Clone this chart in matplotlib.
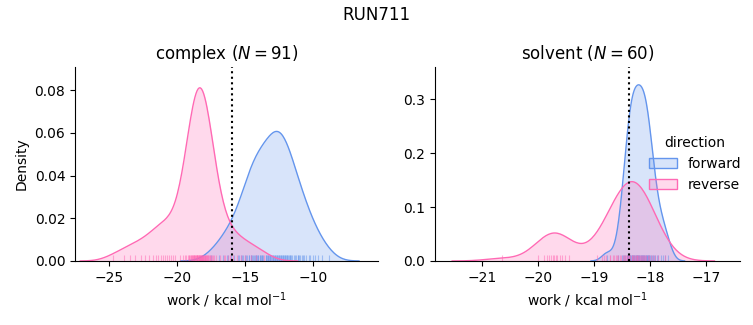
import numpy as np
import matplotlib
matplotlib.use('Agg')
import matplotlib.pyplot as plt
from matplotlib.patches import Patch

run_name = 'RUN711'
phases = ['complex', 'solvent']
directions = ['forward', 'reverse']
colors = {'forward': '#6495ED', 'reverse': '#FF69B4'}

# free energy estimates (dotted lines)
dg = {'complex': -15.95, 'solvent': -18.38}

complex_forward = [
    -17.55, -16.95, -16.65, -16.35, -16.25, -16.05, -15.85,
    -15.55, -15.45, -15.35, -15.25, -15.15, -15.05, -14.95, -14.85, -14.75,
    -14.7, -14.6, -14.55, -14.5, -14.45, -14.35, -14.3, -14.25, -14.2, -14.15,
    -14.1, -14.05, -13.95, -13.9, -13.85, -13.8, -13.75, -13.7,
    -13.5, -13.45, -13.4, -13.35, -13.3, -13.25, -13.2, -13.15, -13.1, -13.05,
    -13.0, -12.95, -12.9, -12.85, -12.8, -12.75, -12.7, -12.65, -12.6, -12.55,
    -12.5, -12.45, -12.4, -12.35, -12.3, -12.25, -12.2, -12.15, -12.1, -12.05,
    -12.0, -11.95, -11.9, -11.85, -11.8, -11.75, -11.7, -11.65, -11.6,
    -11.4, -11.35, -11.25, -11.15, -11.1, -11.05, -10.95, -10.85, -10.75, -10.65, -10.55,
    -10.35, -10.25, -10.05, -9.85, -9.65,
    -9.35, -8.85,
]
complex_reverse = [
    -24.7, -23.9, -23.5, -23.1, -22.7, -22.4, -22.1, -21.8,
    -21.6, -21.4, -21.2, -21.05, -20.9, -20.75, -20.6, -20.45, -20.3, -20.2,
    -19.83, -19.56, -19.43, -19.33, -19.24, -19.18, -19.12, -19.07, -19.02, -18.98,
    -18.94, -18.9, -18.87, -18.83, -18.8, -18.76, -18.74, -18.71, -18.68, -18.64,
    -18.62, -18.59, -18.56, -18.54, -18.52, -18.49, -18.46, -18.43, -18.41, -18.39,
    -18.36, -18.34, -18.31, -18.29, -18.27, -18.24, -18.21, -18.18, -18.16, -18.14,
    -18.11, -18.08, -18.06, -18.02, -17.99, -17.96, -17.94, -17.9, -17.87, -17.83,
    -17.8, -17.76, -17.72, -17.68, -17.63, -17.58, -17.52, -17.46, -17.37, -17.27,
    -17.14, -16.87,
    -16.6, -16.5, -16.3, -16.1, -15.9, -15.6, -15.3, -15.0, -14.6, -14.2, -13.6,
]
solvent_forward = [
    -18.77, -18.57, -18.51, -18.48, -18.46, -18.44, -18.42, -18.41, -18.4, -18.39,
    -18.38, -18.37, -18.36, -18.35, -18.34, -18.33, -18.32, -18.31, -18.3, -18.29,
    -18.28, -18.27, -18.26, -18.25, -18.24, -18.23, -18.22, -18.21, -18.2, -18.19,
    -18.18, -18.17, -18.16, -18.15, -18.14, -18.13, -18.12, -18.11, -18.1, -18.09,
    -18.08, -18.07, -18.06, -18.05, -18.04, -18.03, -18.02, -18.01, -18.0, -17.99,
    -17.97, -17.95, -17.93, -17.91, -17.88, -17.85, -17.81, -17.77, -17.73, -17.67,
]
solvent_reverse = [
    -20.65,
    -20.0, -19.9, -19.85, -19.81, -19.77, -19.74, -19.72, -19.69, -19.66, -19.62,
    -19.58, -19.52, -19.45,
    -18.95, -18.86, -18.82, -18.78, -18.72, -18.71, -18.66, -18.65, -18.61, -18.6,
    -18.57, -18.54, -18.52, -18.49, -18.47, -18.45, -18.43, -18.42, -18.4, -18.38,
    -18.37, -18.35, -18.33, -18.32, -18.3, -18.29, -18.27, -18.26, -18.24, -18.23,
    -18.21, -18.195, -18.18, -18.16, -18.145, -18.13, -18.11, -18.09, -18.07, -18.045,
    -18.02, -17.99, -17.95, -17.91, -17.85, -17.74,
]

works = {
    ('complex', 'forward'): np.array(complex_forward),
    ('complex', 'reverse'): np.array(complex_reverse),
    ('solvent', 'forward'): np.array(solvent_forward),
    ('solvent', 'reverse'): np.array(solvent_reverse),
}
n_pairs = {'complex': len(complex_forward), 'solvent': len(solvent_forward)}
n_all = sum(len(w) for w in works.values())

xlims = {'complex': (-27.53, -5.24), 'solvent': (-21.85, -16.39)}
ylims = {'complex': 0.0908, 'solvent': 0.36}


def kde(x, gridsize=200, cut=3):
    # gaussian kde, scott bandwidth
    bw = np.std(x, ddof=1) * len(x) ** (-1 / 5)
    grid = np.linspace(x.min() - cut * bw, x.max() + cut * bw, gridsize)
    z = (grid[:, None] - x[None, :]) / bw
    dens = np.exp(-0.5 * z ** 2).sum(axis=1) / (len(x) * bw * np.sqrt(2 * np.pi))
    return grid, dens


fig = plt.figure(figsize=(7.53, 3.25), dpi=100)
ax1 = fig.add_axes([0.0996, 0.197, 0.4024, 0.597])
ax2 = fig.add_axes([0.5777, 0.197, 0.405, 0.597])

for ax, phase in zip([ax1, ax2], phases):
    for d in directions:
        w = works[(phase, d)]
        grid, dens = kde(w)
        dens = dens * len(w) / n_all
        ax.fill_between(grid, 0, dens, color=colors[d], alpha=0.25, lw=0)
        ax.plot(grid, dens, color=colors[d], lw=1)
        ax.vlines(w, 0, 0.03, transform=ax.get_xaxis_transform(),
                  color=colors[d], alpha=0.5, lw=0.8)
    ax.axvline(dg[phase], color='black', ls=':', lw=1.5)
    ax.set_xlim(*xlims[phase])
    ax.set_ylim(0, ylims[phase])
    ax.set_title(f'{phase} ($N = {n_pairs[phase]}$)', fontsize=12)
    ax.set_xlabel('work / kcal mol$^{-1}$')
    ax.spines['top'].set_visible(False)
    ax.spines['right'].set_visible(False)

ax1.set_ylabel('Density')

handles = [Patch(facecolor=matplotlib.colors.to_rgba(colors[d], 0.25),
                 edgecolor=colors[d], lw=1) for d in directions]
ax2.legend(handles, directions, title='direction', loc='center left',
           bbox_to_anchor=(0.66, 0.5), frameon=False)

fig.suptitle(run_name, fontsize=12)
fig.savefig('out.png', dpi=100)
